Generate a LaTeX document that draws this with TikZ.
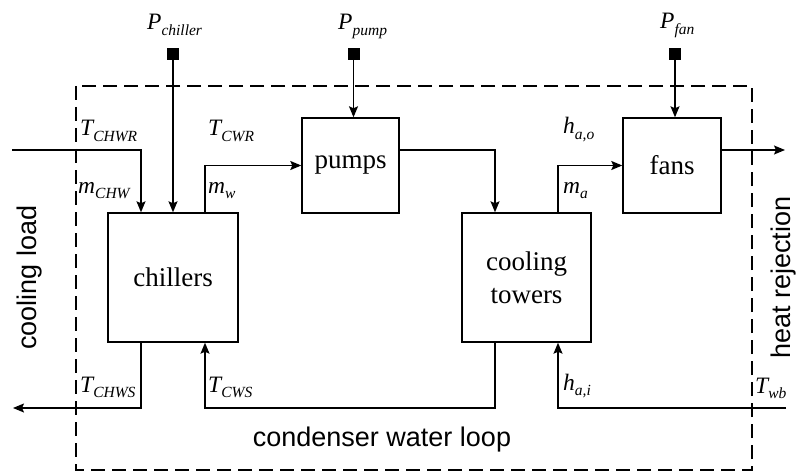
\documentclass[tikz,border=0pt]{standalone}
\usepackage{fontspec}
\setmainfont{Liberation Serif}
\newfontfamily\sansf{Liberation Sans}
\usetikzlibrary{arrows.meta}
\newcommand{\varlab}[2]{{\fontsize{23.5}{24}\selectfont\itshape #1\raisebox{-5.5pt}{\fontsize{15.5}{16}\selectfont #2}}}
\tikzset{
  blk/.style={draw, line width=1.4pt, inner sep=0pt, font=\fontsize{27}{33}\selectfont, align=center},
  flow/.style={line width=1.4pt, -{Stealth[length=11pt,width=9pt,inset=2pt]}},
  wire/.style={line width=1.4pt},
  lab/.style={inner sep=0pt, anchor=base west},
  sq/.style={fill=black, minimum size=12pt, inner sep=0pt},
  slab/.style={inner sep=0pt, anchor=base, font=\sansf\fontsize{27}{30}\selectfont},
  bound/.style={line width=1.4pt, dash pattern=on 14pt off 7pt}
}
\begin{document}
\begin{tikzpicture}[x=1pt,y=-1pt]
\useasboundingbox (0,0) rectangle (799,473);
% boundary
\draw[bound] (76,86) rectangle (752,470);
% blocks
\node[blk, minimum width=130pt, minimum height=129pt] (ch) at (173,277.5) {chillers};
\node[blk, minimum width=97pt, minimum height=95pt] (pu) at (350.5,165.5) {pumps};
\node[blk, minimum width=129pt, minimum height=129pt] (ct) at (526.5,277.5) {cooling\\towers};
\node[blk, minimum width=98pt, minimum height=95pt] (fa) at (672,165.5) {fans};
% power squares
\node[sq] (sqc) at (173,54) {};
\node[sq] (sqp) at (353.5,54) {};
\node[sq] (sqf) at (675,54) {};
% coordinates
\coordinate (inL) at (12,150);
\coordinate (outL) at (13,408);
\coordinate (outR) at (785,150);
\coordinate (inR) at (786,408);
% connectors
\draw[flow] (inL) -| (ch.north -| 141,0);
\draw[flow] (sqc) -- (ch.north);
\draw[flow] (ch.north -| 205,0) |- (pu.west);
\draw[flow] (sqp.south) -- (pu.north -| sqp);
\draw[flow] (pu.east |- 0,150) -| (ct.north -| 495,0);
\draw[flow] (ct.north -| 558,0) |- (fa.west);
\draw[flow] (sqf.south) -- (fa.north -| sqf);
\draw[flow] (fa.east |- 0,150) -- (outR);
\draw[flow] (ch.south -| 141,0) |- (outL);
\draw[flow] (ct.south -| 495,0) |- (205,408) -- (ch.south -| 205,0);
\draw[flow] (inR) -| (ct.south -| 558,0);
% variable labels
\node[lab] (lp1) at (147,30) {\varlab{P}{chiller}};
\node[lab] (lp2) at (338,30) {\varlab{P}{pump}};
\node[lab] (lp3) at (660,29) {\varlab{P}{fan}};
\node[lab] (l1) at (80,136) {\varlab{T}{CHWR}};
\node[lab] (l2) at (78,193) {\varlab{m}{CHW}};
\node[lab] (l3) at (208,136) {\varlab{T}{CWR}};
\node[lab] (l4) at (208,193) {\varlab{m}{w}};
\node[lab] (l5) at (563,134) {\varlab{h}{a,o}};
\node[lab] (l6) at (563,193) {\varlab{m}{a}};
\node[lab] (l7) at (80,392) {\varlab{T}{CHWS}};
\node[lab] (l8) at (208,392) {\varlab{T}{CWS}};
\node[lab] (l9) at (563,390) {\varlab{h}{a,i}};
\node[lab] (l10) at (755,393) {\varlab{T}{wb}};
% sans labels
\node[slab, rotate=90] (cl) at (36,277.5) {cooling load};
\node[slab, rotate=90] (hr) at (790,277.5) {heat rejection};
\node[slab] (cw) at (382,446) {condenser water loop};
\end{tikzpicture}
\end{document}
